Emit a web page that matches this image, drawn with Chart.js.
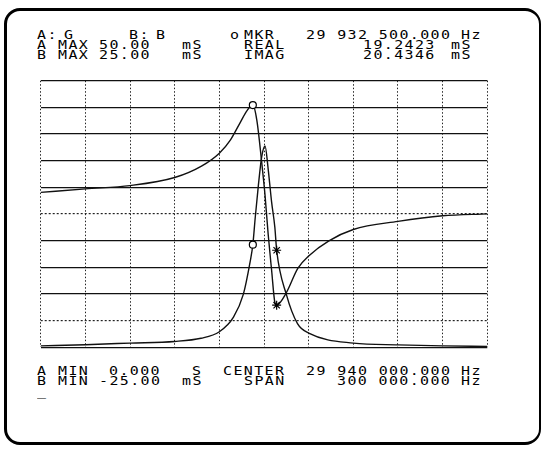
<!DOCTYPE html>
<html>
<head>
<meta charset="utf-8">
<script src="https://cdn.jsdelivr.net/npm/chart.js@4.4.1/dist/chart.umd.min.js"></script>
<style>
  html, body { margin: 0; padding: 0; background: #fff; }
  #page { position: relative; width: 546px; height: 449px; overflow: hidden; background: #fff; }
  #frame { position: absolute; left: 4px; top: 8px; width: 532px; height: 431px;
           border: solid #000; border-width: 3px 2px 3px 3px; border-radius: 16px; }
  #plot { position: absolute; left: 35px; top: 75px; }
  .txt { position: absolute; font-family: "DejaVu Sans Mono", monospace; font-size: 13px;
         line-height: 13px; letter-spacing: 1.2px; color: #000; white-space: pre;
         transform: scaleX(1.15); transform-origin: 0 0; }
</style>
</head>
<body>
<div id="page">
  <div id="frame"></div>
  <canvas id="plot" width="458" height="278"></canvas>
</div>
<script>
// traces (Hz, mS)
// B: susceptance, scale -25..25 mS
const bFreq = [29790000, 29820000, 29850000, 29880000, 29898000, 29910000, 29917500, 29924100,
  29928600, 29932500, 29935200, 29938500, 29940700, 29942800, 29945100, 29947300, 29948500,
  29955000, 29962700, 29970400, 29983600, 30000000, 30030000, 30060000, 30090000];
const bVals = [4.05, 4.72, 5.33, 6.84, 8.98, 11.41, 13.91, 17.2,
  19.4, 20.43, 17.56, 9.58, 3.5, -3.81, -10.51, -16.6, -17.1,
  -14.77, -10.2, -7.77, -5.03, -2.9, -1.38, -0.34, 0.03];
// G: conductance, scale 0..50 mS
const gFreq = [29790000, 29820000, 29850000, 29880000, 29897700, 29910000, 29919500, 29926100,
  29930700, 29932500, 29934100, 29936200, 29938500, 29940700, 29942800, 29945100, 29947300,
  29948500, 29955000, 29962500, 29970400, 30000000, 30030000, 30060000, 30090000];
const gVals = [0.27, 0.49, 0.79, 1.1, 1.7, 2.92, 5.66, 9.92,
  16.08, 19.24, 24.3, 30.33, 35.8, 37.76, 33.43, 27.27, 22.47,
  18.2, 9.92, 4.44, 2.61, 0.79, 0.46, 0.27, 0.18];

// markers
const mkrFreq = 29932500;
const mkrReal = 19.2423;
const mkrImag = 20.4346;
const mkr2Freq = 29948500;
const mkr2Real = 18.2;
const mkr2Imag = -17.1;

// span / scales
const freqStart = 29790000;
const freqStop = 30090000;
const freqStep = 30000;
const aMin = 0, aMax = 50;
const bMin = -25, bMax = 25;
const aSolidLines = [0, 10, 15, 20, 30, 35, 40, 45, 50];
const bDottedLines = [-20, 0];

// screen annotation text: [row top px, column, text]
const textPitch = 10.35;
const textLeft = 37;
const screenText = [
  [27.5, 0, "A:"], [27.5, 2.6, "G"], [27.5, 8.9, "B:"], [27.5, 11.5, "B"], [27.5, 18.6, "o"], [27.5, 20, "MKR"],
  [27.5, 26, "29 932 500.000"], [27.5, 41, "Hz"],
  [37.5, 0, "A"], [37.5, 2, "MAX"], [37.5, 6, "50.00"], [37.5, 14, "mS"], [37.5, 20, "REAL"],
  [37.5, 31.5, "19.2423"], [37.5, 40, "mS"],
  [47.5, 0, "B"], [47.5, 2, "MAX"], [47.5, 6, "25.00"], [47.5, 14, "mS"], [47.5, 20, "IMAG"],
  [47.5, 31.5, "20.4346"], [47.5, 40, "mS"],
  [363.5, 0, "A"], [363.5, 2, "MIN"], [363.5, 7, "0.000"], [363.5, 15, "S"], [363.5, 18, "CENTER"],
  [363.5, 26, "29 940 000.000"], [363.5, 41, "Hz"],
  [374, 0, "B"], [374, 2, "MIN"], [374, 6, "-25.00"], [374, 14, "mS"], [374, 20, "SPAN"],
  [374, 29, "300 000.000"], [374, 41, "Hz"],
  [385, 0, "_"]
];

const page = document.getElementById("page");
screenText.forEach(function (t) {
  const s = document.createElement("span");
  s.className = "txt";
  s.style.top = t[0] + "px";
  s.style.left = (textLeft + t[1] * textPitch) + "px";
  s.textContent = t[2];
  page.appendChild(s);
});

function pts(xs, ys) {
  return xs.map(function (x, i) { return { x: x, y: ys[i] }; });
}

function marker(x, y, axis, style, r) {
  return {
    data: [{ x: x, y: y }], yAxisID: axis, showLine: false,
    pointStyle: style, pointRadius: r, pointHoverRadius: r,
    pointBorderColor: "#000", pointBackgroundColor: "#fff", pointBorderWidth: 1.2
  };
}

new Chart(document.getElementById("plot"), {
  type: "line",
  data: {
    datasets: [
      marker(mkrFreq, mkrImag, "yB", "circle", 3.5),
      marker(mkrFreq, mkrReal, "yA", "circle", 3.5),
      marker(mkr2Freq, mkr2Imag, "yB", "star", 4.5),
      marker(mkr2Freq, mkr2Real, "yA", "star", 4.5),
      {
        data: pts(bFreq, bVals), yAxisID: "yB", borderColor: "#111", borderWidth: 1.4,
        pointRadius: 0, cubicInterpolationMode: "monotone"
      },
      {
        data: pts(gFreq, gVals), yAxisID: "yA", borderColor: "#111", borderWidth: 1.4,
        pointRadius: 0, cubicInterpolationMode: "monotone"
      }
    ]
  },
  options: {
    responsive: false,
    animation: false,
    layout: { padding: 2 },
    plugins: { legend: { display: false }, tooltip: { enabled: false } },
    scales: {
      x: {
        type: "linear", min: freqStart, max: freqStop,
        ticks: { display: false, stepSize: freqStep, autoSkip: false },
        grid: { color: "#222", lineWidth: 1, drawTicks: false },
        border: { display: false, dash: [1.5, 2] }
      },
      yA: {
        position: "left", min: aMin, max: aMax,
        afterBuildTicks: function (axis) { axis.ticks = aSolidLines.map(function (v) { return { value: v }; }); },
        ticks: { display: false },
        grid: { color: "#111", lineWidth: 1.3, drawTicks: false },
        border: { display: false }
      },
      yB: {
        position: "right", min: bMin, max: bMax,
        afterBuildTicks: function (axis) { axis.ticks = bDottedLines.map(function (v) { return { value: v }; }); },
        ticks: { display: false },
        grid: { color: "#222", lineWidth: 1.2, drawTicks: false },
        border: { display: false, dash: [2, 2] }
      }
    }
  }
});
</script>
</body>
</html>
